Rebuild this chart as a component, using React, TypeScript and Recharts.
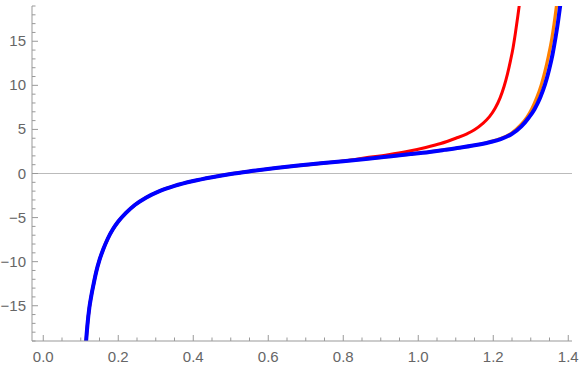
import { LineChart, Line, XAxis, YAxis, ReferenceLine } from "recharts";

// values
const blueX = [0.112, 0.114, 0.118, 0.123, 0.128, 0.134, 0.141, 0.15, 0.16, 0.172, 0.186, 0.2, 0.22, 0.245, 0.275, 0.31, 0.35, 0.4, 0.45, 0.5, 0.56, 0.62, 0.68, 0.74, 0.8, 0.86, 0.92, 0.98, 1.03, 1.07, 1.11, 1.15, 1.19, 1.22, 1.25, 1.275, 1.295, 1.31, 1.325, 1.338, 1.349, 1.358, 1.366, 1.373, 1.379, 1.385];
const blueY = [-20.6, -19.2, -17.1, -15.2, -13.9, -12.6, -11.2, -9.8, -8.6, -7.4, -6.3, -5.45, -4.5, -3.55, -2.72, -2.0, -1.4, -0.85, -0.42, -0.05, 0.3, 0.62, 0.9, 1.15, 1.4, 1.65, 1.92, 2.2, 2.45, 2.68, 2.92, 3.2, 3.55, 3.9, 4.5, 5.35, 6.35, 7.3, 8.6, 10.1, 11.8, 13.5, 15.4, 17.3, 19.2, 21.3];

// red and orange follow the blue curve on the left, then split off
const redTailX = [0.8, 0.86, 0.92, 0.97, 1.02, 1.06, 1.1, 1.13, 1.15, 1.17, 1.19, 1.205, 1.218, 1.229, 1.238, 1.246, 1.253, 1.259, 1.265, 1.271, 1.276];
const redTailY = [1.42, 1.78, 2.14, 2.5, 2.95, 3.4, 4.0, 4.5, 4.95, 5.6, 6.45, 7.4, 8.55, 9.9, 11.3, 12.8, 14.3, 15.9, 17.7, 19.6, 21.4];

const orangeTailX = [1.19, 1.22, 1.25, 1.272, 1.29, 1.303, 1.316, 1.328, 1.338, 1.347, 1.355, 1.362, 1.368, 1.374];
const orangeTailY = [3.58, 3.96, 4.62, 5.45, 6.4, 7.35, 8.6, 10.05, 11.6, 13.3, 15.0, 16.9, 18.8, 21.0];

const xLabels = [0, 0.2, 0.4, 0.6, 0.8, 1.0, 1.2, 1.4];
const yLabels = [-15, -10, -5, 0, 5, 10, 15];

const toPoints = (xs: number[], ys: number[]) => xs.map((x, i) => ({ x, y: ys[i] }));

const blueData = toPoints(blueX, blueY);
const redData = [...blueData.filter((p) => p.x <= 0.74), ...toPoints(redTailX, redTailY)];
const orangeData = [...blueData.filter((p) => p.x <= 1.15), ...toPoints(orangeTailX, orangeTailY)];

const xTicks: number[] = [];
for (let i = 0; i <= 28; i++) xTicks.push(Number((i * 0.05).toFixed(2)));
const yTicks: number[] = [];
for (let v = -19; v <= 19; v++) yTicks.push(v);

const FRAME = "#999999";
const LABEL = "#666666";
const FONT = "'Liberation Sans', Arial, sans-serif";

const isXMajor = (v: number) => xLabels.some((m) => Math.abs(m - v) < 1e-6);
const isYMajor = (v: number) => yLabels.includes(v);
const fmtY = (v: number) => (v < 0 ? "\u2212" + Math.abs(v) : String(v));

const BottomTick = (p: any) => {
  const major = isXMajor(p.payload.value);
  return (
    <g>
      <line x1={p.x} x2={p.x} y1={p.y} y2={p.y - (major ? 6 : 3.5)} stroke={FRAME} />
      {major && (
        <text x={p.x} y={p.y + 21} textAnchor="middle" fill={LABEL} fontSize={15} fontFamily={FONT}>
          {p.payload.value.toFixed(1)}
        </text>
      )}
    </g>
  );
};

const TopTick = (p: any) => {
  const major = isXMajor(p.payload.value);
  return <line x1={p.x} x2={p.x} y1={p.y} y2={p.y + (major ? 6 : 3.5)} stroke={FRAME} />;
};

const LeftTick = (p: any) => {
  const major = isYMajor(p.payload.value);
  return (
    <g>
      <line x1={p.x} x2={p.x + (major ? 6 : 3.5)} y1={p.y} y2={p.y} stroke={FRAME} />
      {major && (
        <text x={p.x - 6} y={p.y + 5} textAnchor="end" fill={LABEL} fontSize={15} fontFamily={FONT}>
          {fmtY(p.payload.value)}
        </text>
      )}
    </g>
  );
};

const RightTick = (p: any) => {
  const major = isYMajor(p.payload.value);
  return <line x1={p.x} x2={p.x - (major ? 6 : 3.5)} y1={p.y} y2={p.y} stroke={FRAME} />;
};

export default function App() {
  return (
    <div style={{ position: "absolute", left: 0, top: 0, width: 586, height: 369, background: "#fff" }}>
      <LineChart width={586} height={369} margin={{ top: 6, right: 14, bottom: 0, left: 0 }}>
        <XAxis
          xAxisId="b"
          dataKey="x"
          type="number"
          domain={[-0.03, 1.41]}
          allowDataOverflow
          ticks={xTicks}
          interval={0}
          tick={BottomTick}
          tickLine={false}
          tickSize={0}
          tickMargin={0}
          height={28}
          stroke={FRAME}
        />
        <XAxis
          xAxisId="t"
          orientation="top"
          dataKey="x"
          type="number"
          domain={[-0.03, 1.41]}
          allowDataOverflow
          ticks={xTicks}
          interval={0}
          tick={TopTick}
          tickLine={false}
          tickSize={0}
          tickMargin={0}
          height={0}
          stroke={FRAME}
        />
        <YAxis
          yAxisId="l"
          type="number"
          domain={[-19, 19]}
          allowDataOverflow
          ticks={yTicks}
          interval={0}
          tick={LeftTick}
          tickLine={false}
          tickSize={0}
          tickMargin={0}
          width={32}
          stroke={FRAME}
        />
        <YAxis
          yAxisId="r"
          orientation="right"
          type="number"
          domain={[-19, 19]}
          allowDataOverflow
          ticks={yTicks}
          interval={0}
          tick={RightTick}
          tickLine={false}
          tickSize={0}
          tickMargin={0}
          width={0}
          stroke={FRAME}
        />
        <ReferenceLine xAxisId="b" yAxisId="l" y={0} stroke="#bbbbbb" strokeWidth={1} />
        <Line xAxisId="b" yAxisId="l" data={redData} dataKey="y" type="monotone" stroke="#ff0000" strokeWidth={3} dot={false} isAnimationActive={false} />
        <Line xAxisId="b" yAxisId="l" data={orangeData} dataKey="y" type="monotone" stroke="#ff8000" strokeWidth={3.2} dot={false} isAnimationActive={false} />
        <Line xAxisId="b" yAxisId="l" data={blueData} dataKey="y" type="monotone" stroke="#0000ff" strokeWidth={4} dot={false} isAnimationActive={false} />
      </LineChart>
    </div>
  );
}
